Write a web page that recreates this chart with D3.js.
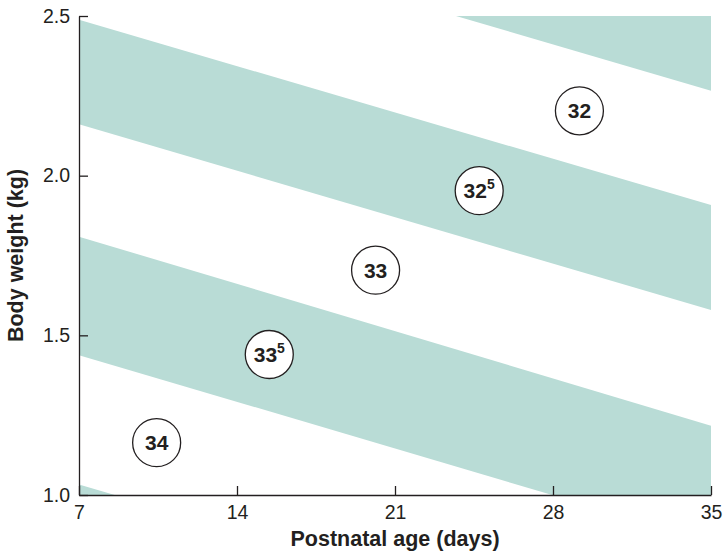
<!DOCTYPE html>
<html>
<head>
<meta charset="utf-8">
<script src="https://cdn.jsdelivr.net/npm/d3@7"></script>
<style>
  html, body { margin: 0; padding: 0; background: #fff; }
  svg { display: block; }
  text { font-family: "Liberation Sans", Arial, Helvetica, sans-serif; fill: #231f20; }
</style>
</head>
<body>
<svg id="chart" width="723" height="555"></svg>
<script>
// ---- data ----
const xTicks = [7, 14, 21, 28, 35];
const yTicks = [1.0, 1.5, 2.0, 2.5];

// shaded bands: edge values (kg) at day 7 and at day 35
const bandUpperAt7  = [3.20, 2.488, 1.809, 1.033];
const bandUpperAt35 = [2.62, 1.908, 1.217, 0.45];
const bandLowerAt7  = [2.846, 2.161, 1.438, 0.65];
const bandLowerAt35 = [2.266, 1.579, 0.853, 0.05];

// circled gestational-age labels
const labelMain = ["32", "32", "33", "33", "34"];
const labelSup  = ["", "5", "", "5", ""];
const labelAge  = [29.17, 24.73, 20.14, 15.43, 10.44];
const labelWt   = [2.203, 1.953, 1.704, 1.44, 1.164];

// ---- layout ----
const svg = d3.select("#chart");
const pLeft = 79, pRight = 711, pTop = 16, pBottom = 495;
const x = d3.scaleLinear().domain([7, 35]).range([pLeft, pRight]);
const y = d3.scaleLinear().domain([1.0, 2.5]).range([pBottom, pTop]);

svg.append("defs").append("clipPath").attr("id", "plotclip")
  .append("rect").attr("x", pLeft).attr("y", pTop)
  .attr("width", pRight - pLeft).attr("height", pBottom - pTop);

const bands = bandUpperAt7.map((u, i) => [
  [7, u], [35, bandUpperAt35[i]], [35, bandLowerAt35[i]], [7, bandLowerAt7[i]]
]);
const line = d3.line().x(d => x(d[0])).y(d => y(d[1]));

svg.append("g").attr("clip-path", "url(#plotclip)")
  .selectAll("path").data(bands).join("path")
  .attr("d", d => line(d) + "Z")
  .attr("fill", "#b9dcd6");

// axes
const yAxis = d3.axisLeft(y).tickValues(yTicks).tickFormat(d3.format(".1f"))
  .tickSizeInner(-9).tickSizeOuter(0).tickPadding(9);
const xAxis = d3.axisBottom(x).tickValues(xTicks).tickFormat(d3.format("d"))
  .tickSizeInner(-9).tickSizeOuter(0).tickPadding(10);

const gy = svg.append("g").attr("transform", `translate(${pLeft},0)`).call(yAxis);
const gx = svg.append("g").attr("transform", `translate(0,${pBottom})`).call(xAxis);
[gx, gy].forEach(g => {
  g.selectAll("path, line").attr("stroke", "#231f20").attr("stroke-width", 1.3);
  g.selectAll("text").attr("font-size", 19.5).attr("fill", "#231f20")
    .style("font-family", '"Liberation Sans", Arial, sans-serif');
});

// axis titles
svg.append("text")
  .attr("x", (pLeft + pRight) / 2).attr("y", 546)
  .attr("text-anchor", "middle").attr("font-size", 21.5).attr("font-weight", "bold")
  .text("Postnatal age (days)");
svg.append("text")
  .attr("transform", `translate(23,${(pTop + pBottom) / 2}) rotate(-90)`)
  .attr("text-anchor", "middle").attr("font-size", 21.5).attr("font-weight", "bold")
  .text("Body weight (kg)");

// circled labels
const lbl = svg.append("g").selectAll("g").data(labelMain).join("g")
  .attr("transform", (d, i) => `translate(${x(labelAge[i])},${y(labelWt[i])})`);
lbl.append("circle").attr("r", 24).attr("fill", "#fff")
  .attr("stroke", "#231f20").attr("stroke-width", 1.3);
const t = lbl.append("text").attr("text-anchor", "middle").attr("y", 7.5)
  .attr("font-size", 21).attr("font-weight", "bold");
t.append("tspan").text(d => d);
t.append("tspan").attr("font-size", 14).attr("dy", -9)
  .text((d, i) => labelSup[i]);
</script>
</body>
</html>
